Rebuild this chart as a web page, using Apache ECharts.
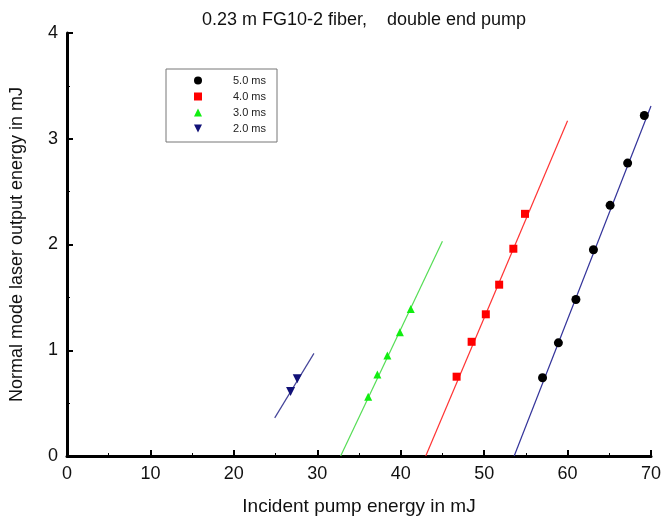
<!DOCTYPE html>
<html lang="en">
<head>
    <meta charset="UTF-8" />
    <title>FG10-2 fiber, double end pump</title>
    <script src="https://cdn.jsdelivr.net/npm/echarts@6/dist/echarts.min.js"></script>
    <style>
        html, body { margin: 0; padding: 0; background: #fff; }
        #chart { width: 669px; height: 521px; }
    </style>
</head>
<body>
<div id="chart"></div>
<script type="text/javascript">
    // measured points, pump energy (mJ) vs output energy (mJ)
    const pump50 = [57.0, 58.9, 61.0, 63.1, 65.1, 67.2, 69.2];
    const out50 = [0.74, 1.07, 1.48, 1.95, 2.37, 2.77, 3.22];
    const pump40 = [46.7, 48.5, 50.2, 51.8, 53.5, 54.9];
    const out40 = [0.75, 1.08, 1.34, 1.62, 1.96, 2.29];
    const pump30 = [36.1, 37.2, 38.4, 39.9, 41.2];
    const out30 = [0.56, 0.77, 0.95, 1.17, 1.39];
    const pump20 = [26.8, 27.6];
    const out20 = [0.61, 0.73];

    // fitted lines, start and end points
    const fit50 = [[53.6, 0], [70.0, 3.31]];
    const fit40 = [[43.0, 0], [60.0, 3.17]];
    const fit30 = [[32.8, 0], [45.0, 2.03]];
    const fit20 = [[24.9, 0.36], [29.6, 0.97]];

    const legendNames = ['5.0 ms', '4.0 ms', '3.0 ms', '2.0 ms'];
    const xTicks = [0, 10, 20, 30, 40, 50, 60, 70];
    const yTicks = [0, 1, 2, 3, 4];

    function pairs(xs, ys) {
        return xs.map((x, i) => [x, ys[i]]);
    }

    const font = 'Liberation Sans, Arial, sans-serif';

    function scatter(name, xs, ys, symbol, color, size, rotate) {
        return {
            name: name, type: 'scatter', data: pairs(xs, ys),
            symbol: symbol, symbolSize: size, symbolRotate: rotate || 0,
            itemStyle: { color: color, opacity: 1 }, z: 5
        };
    }
    function fitLine(pts, color) {
        return {
            type: 'line', data: pts, symbol: 'none', silent: true,
            lineStyle: { color: color, width: 1.2 }, z: 3
        };
    }

    let chart = echarts.init(document.getElementById('chart'), null, { renderer: 'canvas' });
    let option = {
        animation: false,
        backgroundColor: '#fff',
        textStyle: { fontFamily: font },
        title: {
            text: '0.23 m FG10-2 fiber,    double end pump',
            left: 359, top: 6, textAlign: 'center',
            textStyle: { fontFamily: font, fontSize: 18, fontWeight: 'normal', color: '#111' }
        },
        legend: {
            data: legendNames.map((n, i) => ({
                name: n,
                icon: ['circle', 'rect', 'triangle', 'path://M0,0 L10,0 L5,10 Z'][i]
            })),
            orient: 'vertical', left: 166, top: 69,
            padding: [6, 11, 8, 28],
            itemWidth: 8, itemHeight: 8, itemGap: 5,
            borderColor: '#777', borderWidth: 1,
            textStyle: { fontFamily: font, fontSize: 11, lineHeight: 11, color: '#222', padding: [0, 0, 0, 26] }
        },
        grid: { left: 67, right: 18, top: 33, bottom: 63 },
        xAxis: {
            type: 'value', min: 0, max: 70, interval: 10,
            name: 'Incident pump energy in mJ', nameLocation: 'middle', nameGap: 41,
            nameTextStyle: { fontFamily: font, fontSize: 19, color: '#111' },
            axisLine: { onZero: false, lineStyle: { color: '#000', width: 3 } },
            axisTick: { inside: true, length: 6, lineStyle: { color: '#000', width: 2 } },
            minorTick: { show: true, splitNumber: 2, length: 3, lineStyle: { color: '#000', width: 1 } },
            axisLabel: { fontFamily: font, fontSize: 18, color: '#111', margin: 9,
                formatter: v => xTicks.includes(v) ? String(v) : '' },
            splitLine: { show: false }
        },
        yAxis: {
            type: 'value', min: 0, max: 4, interval: 1,
            name: 'Normal mode laser output energy in mJ', nameLocation: 'middle', nameGap: 41,
            nameTextStyle: { fontFamily: font, fontSize: 18, color: '#111' },
            axisLine: { onZero: false, lineStyle: { color: '#000', width: 3 } },
            axisTick: { inside: true, length: 6, lineStyle: { color: '#000', width: 2 } },
            minorTick: { show: true, splitNumber: 2, length: 3, lineStyle: { color: '#000', width: 1 } },
            axisLabel: { fontFamily: font, fontSize: 18, color: '#111', margin: 9,
                formatter: v => yTicks.includes(v) ? String(v) : '' },
            splitLine: { show: false }
        },
        series: [
            scatter('5.0 ms', pump50, out50, 'circle', '#000', 9),
            scatter('4.0 ms', pump40, out40, 'rect', '#ff0000', 8),
            scatter('3.0 ms', pump30, out30, 'triangle', '#11ee11', 8),
            scatter('2.0 ms', pump20, out20, 'triangle', '#111177', 9, 180),
            fitLine(fit50, '#33339a'),
            fitLine(fit40, '#ff3333'),
            fitLine(fit30, '#55dd55'),
            fitLine(fit20, '#444499')
        ]
    };
    chart.setOption(option);
</script>
</body>
</html>
